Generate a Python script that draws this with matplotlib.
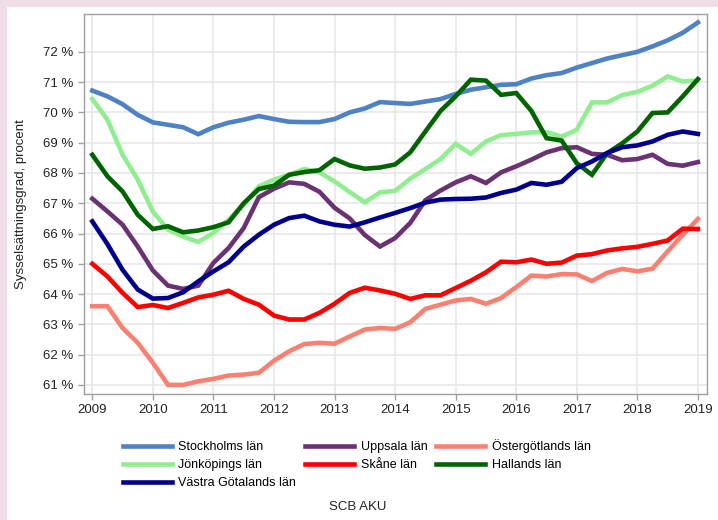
import numpy as np
import matplotlib
matplotlib.use('Agg')
import matplotlib.pyplot as plt
from matplotlib.patches import Rectangle

plt.rcParams['font.family'] = ['Liberation Sans', 'DejaVu Sans']

# kvartal 2009K1 - 2019K1
kvartal = 2009 + np.arange(41) / 4

stockholm = [70.72, 70.53, 70.27, 69.92, 69.67, 69.59, 69.51, 69.28, 69.51, 69.66,
             69.76, 69.88, 69.78, 69.69, 69.68, 69.68, 69.78, 70.0, 70.13, 70.34,
             70.31, 70.28, 70.36, 70.44, 70.61, 70.75, 70.83, 70.91, 70.93, 71.12,
             71.23, 71.3, 71.48, 71.63, 71.78, 71.89, 72.0, 72.18, 72.38, 72.63, 72.97]
uppsala = [67.15, 66.73, 66.29, 65.57, 64.78, 64.28, 64.17, 64.28, 65.03, 65.52,
           66.18, 67.2, 67.48, 67.69, 67.64, 67.38, 66.85, 66.5, 65.95, 65.57,
           65.85, 66.35, 67.1, 67.42, 67.69, 67.89, 67.67, 68.02, 68.22, 68.44,
           68.68, 68.82, 68.85, 68.63, 68.6, 68.42, 68.46, 68.6, 68.3, 68.24, 68.36]
ostergotland = [63.6, 63.6, 62.88, 62.39, 61.73, 61.0, 61.0, 61.12, 61.2, 61.31,
                61.34, 61.4, 61.8, 62.11, 62.35, 62.39, 62.36, 62.6, 62.83, 62.88,
                62.85, 63.07, 63.51, 63.65, 63.79, 63.84, 63.68, 63.87, 64.23, 64.61,
                64.58, 64.66, 64.65, 64.43, 64.7, 64.83, 64.75, 64.84, 65.41, 65.96, 66.48]
jonkoping = [70.44, 69.76, 68.6, 67.78, 66.72, 66.13, 65.9, 65.72, 66.02, 66.46,
             66.95, 67.56, 67.78, 67.94, 68.13, 68.02, 67.72, 67.37, 67.03, 67.36,
             67.41, 67.81, 68.13, 68.46, 68.96, 68.63, 69.04, 69.25, 69.29, 69.34,
             69.35, 69.2, 69.43, 70.33, 70.33, 70.57, 70.68, 70.88, 71.19, 71.02, 71.05]
skane = [65.0, 64.58, 64.04, 63.57, 63.64, 63.54, 63.71, 63.89, 63.98, 64.11,
         63.84, 63.65, 63.29, 63.16, 63.16, 63.38, 63.68, 64.04, 64.21, 64.12,
         64.01, 63.84, 63.96, 63.96, 64.2, 64.44, 64.72, 65.07, 65.05, 65.14,
         65.0, 65.04, 65.27, 65.32, 65.44, 65.51, 65.56, 65.66, 65.77, 66.16, 66.15]
halland = [68.6, 67.89, 67.39, 66.62, 66.15, 66.24, 66.04, 66.1, 66.21, 66.37,
           67.0, 67.47, 67.58, 67.94, 68.03, 68.09, 68.46, 68.25, 68.14, 68.18,
           68.28, 68.68, 69.37, 70.05, 70.53, 71.08, 71.05, 70.58, 70.64, 70.05,
           69.15, 69.07, 68.32, 67.94, 68.65, 68.98, 69.37, 69.98, 70.0, 70.53, 71.1]
vastra = [66.4, 65.65, 64.8, 64.15, 63.85, 63.87, 64.06, 64.42, 64.75, 65.05,
          65.57, 65.96, 66.29, 66.51, 66.59, 66.4, 66.29, 66.23, 66.37, 66.53,
          66.68, 66.84, 67.02, 67.12, 67.14, 67.15, 67.19, 67.34, 67.45, 67.67,
          67.61, 67.71, 68.16, 68.38, 68.66, 68.85, 68.91, 69.04, 69.26, 69.37, 69.29]

names = ['Stockholms län', 'Uppsala län', 'Östergötlands län', 'Jönköpings län',
         'Skåne län', 'Hallands län', 'Västra Götalands län']
series = [stockholm, uppsala, ostergotland, jonkoping, skane, halland, vastra]
colors = ['#4f81c5', '#6a3273', '#fa8072', '#90ee90', '#ff0000', '#006400', '#00008b']

fig = plt.figure(figsize=(7.18, 5.2), dpi=100)
fig.patch.set_facecolor('#f0dde8')
fig.add_artist(Rectangle((7 / 718, 0), 1, 1 - 7 / 520, transform=fig.transFigure,
                         facecolor='white', edgecolor='none', zorder=0))

ax = fig.add_axes([84 / 718, 1 - 394 / 520, 623 / 718, 380 / 520])
ax.set_facecolor('white')

lines = {}
for name, vals, c in zip(names, series, colors):
    lines[name], = ax.plot(kvartal, vals, color=c, lw=3.3, label=name,
                           solid_joinstyle='miter', zorder=3)

ax.set_xlim(2008.863, 2019.15)
ax.set_ylim(60.70, 73.25)
ax.set_xticks(range(2009, 2020))
ax.set_yticks(range(61, 73))
ax.set_yticklabels(['{} %'.format(v) for v in range(61, 73)])
ax.grid(True, color='#e6e6e6', lw=1.1, zorder=0)
ax.set_axisbelow(True)
for s in ax.spines.values():
    s.set_color('#a0a0a0')
    s.set_linewidth(1)
ax.tick_params(direction='out', length=4.5, width=1, color='#a0a0a0',
               labelsize=9.5, labelcolor='#222222', pad=3)
ax.set_ylabel('Sysselsättningsgrad, procent', fontsize=9.5, color='#222222', labelpad=12)

# legend filled row-wise like the original (3 columns)
order = ['Stockholms län', 'Jönköpings län', 'Västra Götalands län',
         'Uppsala län', 'Skåne län', 'Östergötlands län', 'Hallands län']
fig.legend([lines[n] for n in order], order, loc='upper center',
           bbox_to_anchor=(0.497, 1 - 439 / 520), ncol=3, frameon=False,
           fontsize=9, handlelength=3.9, handletextpad=0.55, columnspacing=0.7,
           labelspacing=0.5, borderpad=0, borderaxespad=0)

fig.text(0.498, 1 - 507 / 520, 'SCB AKU', ha='center', va='center',
         fontsize=9.5, color='#222222')

fig.savefig('out.png', dpi=100, facecolor=fig.get_facecolor())
